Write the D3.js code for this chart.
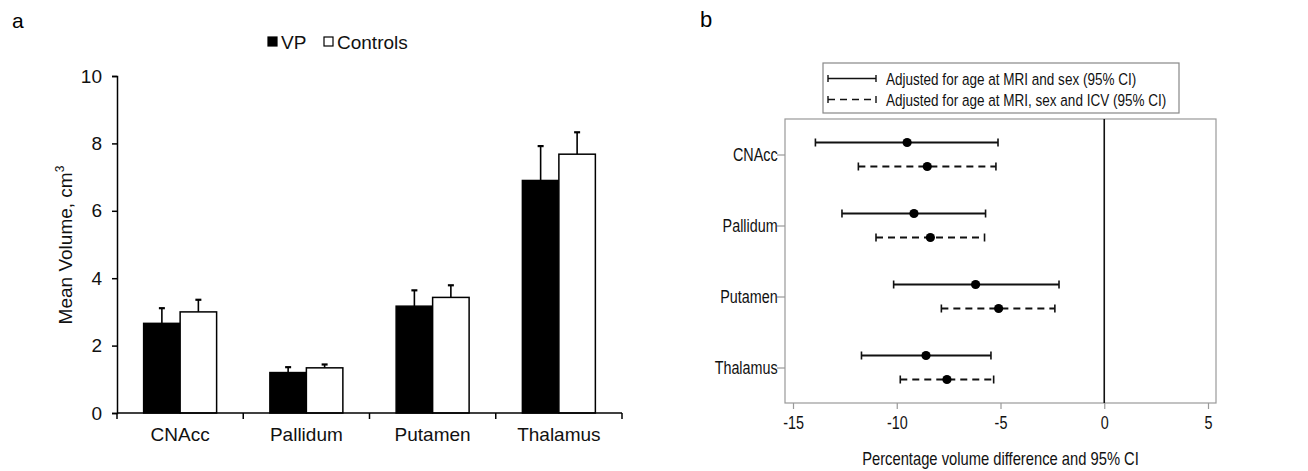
<!DOCTYPE html>
<html>
<head>
<meta charset="utf-8">
<script src="https://cdn.jsdelivr.net/npm/d3@7"></script>
<style>
  body { margin: 0; background: #fff; }
  svg { display: block; }
  .fa, .fb { font-family: "Liberation Sans", Arial, sans-serif; }
</style>
</head>
<body>
<svg id="chart" width="1308" height="471"></svg>
<script>
// panel a: mean volumes (cm3), error = SD shown upward
const regions = ["CNAcc", "Pallidum", "Putamen", "Thalamus"];
const groups = ["VP", "Controls"];
const vpMean = [2.66, 1.20, 3.17, 6.90];
const vpSd = [0.45, 0.16, 0.47, 1.02];
const ctrlMean = [3.00, 1.34, 3.43, 7.68];
const ctrlSd = [0.36, 0.10, 0.36, 0.65];
const volTicks = [0, 2, 4, 6, 8, 10];

// panel b: percentage difference, two models
const models = ["Adjusted for age at MRI and sex (95% CI)", "Adjusted for age at MRI, sex and ICV (95% CI)"];
const est1 = [-9.50, -9.17, -6.20, -8.59];
const lo1 = [-13.92, -12.64, -10.15, -11.70];
const hi1 = [-5.12, -5.72, -2.18, -5.46];
const est2 = [-8.53, -8.38, -5.09, -7.58];
const lo2 = [-11.85, -11.00, -7.85, -9.83];
const hi2 = [-5.22, -5.77, -2.38, -5.33];
const pctTicks = [-15, -10, -5, 0, 5];

const NARROW = 0.82;  // panel b uses a condensed face

const svg = d3.select("#chart");

// ---------- panel a ----------
const a = svg.append("g").attr("class", "fa");
const aLeft = 117, aRight = 622, aTop = 76, aBottom = 413;

a.append("text").attr("x", 12).attr("y", 28).style("font-size", "21px").text("a");

const x0 = d3.scaleBand().domain(regions).range([aLeft, aRight]).padding(0);
const x1 = d3.scaleBand().domain(groups).range([0, x0.bandwidth()]).paddingInner(0).paddingOuter(0.73);
const yA = d3.scaleLinear().domain([0, 10]).range([aBottom, aTop]);

const barData = [];
regions.forEach((r, i) => {
  barData.push({region: r, group: "VP", mean: vpMean[i], sd: vpSd[i]});
  barData.push({region: r, group: "Controls", mean: ctrlMean[i], sd: ctrlSd[i]});
});
const bx = d => x0(d.region) + x1(d.group) + x1.bandwidth() / 2;

// error bars (upward only)
const eb = a.append("g").attr("stroke", "#000").attr("stroke-width", 1.6);
eb.selectAll("line.v").data(barData).enter().append("line")
  .attr("x1", bx).attr("x2", bx)
  .attr("y1", d => yA(d.mean))
  .attr("y2", d => yA(d.mean + d.sd));
eb.selectAll("line.c").data(barData).enter().append("line")
  .attr("stroke-width", 2.2)
  .attr("x1", d => bx(d) - 3)
  .attr("x2", d => bx(d) + 3)
  .attr("y1", d => yA(d.mean + d.sd))
  .attr("y2", d => yA(d.mean + d.sd));

a.append("g").selectAll("rect").data(barData).enter().append("rect")
  .attr("x", d => x0(d.region) + x1(d.group))
  .attr("y", d => yA(d.mean))
  .attr("width", x1.bandwidth())
  .attr("height", d => aBottom - yA(d.mean))
  .attr("fill", d => d.group === "VP" ? "#000" : "#fff")
  .attr("stroke", "#000")
  .attr("stroke-width", 1.5);

a.append("g")
  .attr("transform", `translate(${aLeft},0)`)
  .call(d3.axisLeft(yA).tickValues(volTicks).tickSize(5).tickPadding(10))
  .call(g => g.selectAll("path,line").attr("stroke", "#000").attr("stroke-width", 1.5))
  .call(g => g.selectAll("text").attr("font-family", null).style("font-size", "19px").attr("fill", "#111"));

const xAxisA = a.append("g").attr("transform", `translate(0,${aBottom})`);
xAxisA.append("line").attr("x1", aLeft).attr("x2", aRight).attr("stroke", "#000").attr("stroke-width", 1.6);
xAxisA.selectAll("line.t").data(regions.concat(["end"])).enter().append("line")
  .attr("x1", (d, i) => i < regions.length ? x0(d) : aRight)
  .attr("x2", (d, i) => i < regions.length ? x0(d) : aRight)
  .attr("y1", 0).attr("y2", 6)
  .attr("stroke", "#000").attr("stroke-width", 1.5);
xAxisA.selectAll("text").data(regions).enter().append("text")
  .attr("x", d => x0(d) + x0.bandwidth() / 2)
  .attr("y", 28)
  .attr("text-anchor", "middle")
  .style("font-size", "19px")
  .attr("fill", "#111")
  .text(d => d);

a.append("text")
  .attr("transform", `translate(72,245) rotate(-90)`)
  .attr("text-anchor", "middle")
  .style("font-size", "19px")
  .attr("fill", "#111")
  .text("Mean Volume, cm")
  .append("tspan").attr("dy", -8).style("font-size", "12px").text("3");

// legend a
const legA = a.append("g");
const legAx = [268, 324];
groups.forEach((g, i) => {
  legA.append("rect").attr("x", legAx[i]).attr("y", 37).attr("width", 9).attr("height", 9)
    .attr("fill", i === 0 ? "#000" : "#fff").attr("stroke", "#000").attr("stroke-width", 1.2);
  legA.append("text").attr("x", legAx[i] + 13).attr("y", 48.5)
    .style("font-size", "19px").attr("fill", "#111").text(g);
});

// ---------- panel b ----------
const b = svg.append("g").attr("class", "fb");
const bLeft = 785, bRight = 1216, bTop = 119, bBottom = 403;

b.append("text").attr("x", 700).attr("y", 27).style("font-size", "22px").text("b");

// condensed text helper
const narrow = (sel, x, y, anchor, size, txt) => sel.append("text")
  .attr("transform", `translate(${x},${y}) scale(${NARROW},1)`)
  .attr("text-anchor", anchor)
  .style("font-size", size + "px")
  .attr("fill", "#111")
  .text(txt);

const xB = d3.scaleLinear().domain([-15, 5]).range([793, 1208]);
const yB = d3.scalePoint().domain(regions).range([bTop, bBottom]).padding(0.5);
const off = d3.scaleBand().domain([0, 1]).range([-24, 24]);

b.append("rect").attr("x", bLeft).attr("y", bTop).attr("width", bRight - bLeft).attr("height", bBottom - bTop)
  .attr("fill", "none").attr("stroke", "#999").attr("stroke-width", 1.2);

b.append("line").attr("x1", xB(0)).attr("x2", xB(0)).attr("y1", bTop).attr("y2", bBottom)
  .attr("stroke", "#111").attr("stroke-width", 1.6);

b.append("g")
  .attr("transform", `translate(0,${bBottom})`)
  .call(d3.axisBottom(xB).tickValues(pctTicks).tickSize(6).tickPadding(8).tickFormat(d3.format("d")))
  .call(g => g.select(".domain").remove())
  .call(g => g.selectAll("line").attr("stroke", "#999").attr("stroke-width", 1.2))
  .call(g => g.selectAll("text").attr("font-family", null).style("font-size", "17.5px").attr("fill", "#111")
    .attr("transform", `scale(${NARROW},1)`)
    .text(d => d < 0 ? "-" + Math.abs(d) : d));

b.append("g")
  .attr("transform", `translate(${bLeft},0)`)
  .call(d3.axisLeft(yB).tickSize(8).tickPadding(1))
  .call(g => g.select(".domain").remove())
  .call(g => g.selectAll("line").attr("stroke", "#999").attr("stroke-width", 1.2))
  .call(g => g.selectAll("text").attr("font-family", null).style("font-size", "17.5px").attr("fill", "#111")
    .attr("transform", `scale(${NARROW},1)`));

const ciData = [];
regions.forEach((r, i) => {
  ciData.push({region: r, m: 0, est: est1[i], lo: lo1[i], hi: hi1[i]});
  ciData.push({region: r, m: 1, est: est2[i], lo: lo2[i], hi: hi2[i]});
});
const yc = d => yB(d.region) + off(d.m) + off.bandwidth() / 2;

const ci = b.append("g").attr("stroke", "#111");
ci.selectAll("line.ci").data(ciData).enter().append("line")
  .attr("x1", d => xB(d.lo)).attr("x2", d => xB(d.hi))
  .attr("y1", yc).attr("y2", yc)
  .attr("stroke-width", 2)
  .attr("stroke-dasharray", d => d.m === 1 ? "7,5" : null);
ci.selectAll("line.lc").data(ciData).enter().append("line")
  .attr("x1", d => xB(d.lo)).attr("x2", d => xB(d.lo))
  .attr("y1", d => yc(d) - 4).attr("y2", d => yc(d) + 4).attr("stroke-width", 1.6);
ci.selectAll("line.hc").data(ciData).enter().append("line")
  .attr("x1", d => xB(d.hi)).attr("x2", d => xB(d.hi))
  .attr("y1", d => yc(d) - 4).attr("y2", d => yc(d) + 4).attr("stroke-width", 1.6);
b.append("g").selectAll("circle").data(ciData).enter().append("circle")
  .attr("cx", d => xB(d.est)).attr("cy", yc).attr("r", 4.6).attr("fill", "#000");

narrow(b, (bLeft + bRight) / 2, 465, "middle", 18, "Percentage volume difference and 95% CI");

// legend b
const legB = b.append("g");
legB.append("rect").attr("x", 823).attr("y", 63).attr("width", 356).attr("height", 50)
  .attr("fill", "#fff").attr("stroke", "#888").attr("stroke-width", 1.2);
models.forEach((m, i) => {
  const ly = 78.5 + i * 21;
  legB.append("line").attr("x1", 828).attr("x2", 876).attr("y1", ly).attr("y2", ly)
    .attr("stroke", "#111").attr("stroke-width", 1.6)
    .attr("stroke-dasharray", i === 1 ? "7,5" : null);
  legB.append("line").attr("x1", 828).attr("x2", 828).attr("y1", ly - 3.5).attr("y2", ly + 3.5)
    .attr("stroke", "#111").attr("stroke-width", 1.4);
  legB.append("line").attr("x1", 876).attr("x2", 876).attr("y1", ly - 3.5).attr("y2", ly + 3.5)
    .attr("stroke", "#111").attr("stroke-width", 1.4);
  narrow(legB, 886, ly + 6, "start", 16.5, m);
});
</script>
</body>
</html>
